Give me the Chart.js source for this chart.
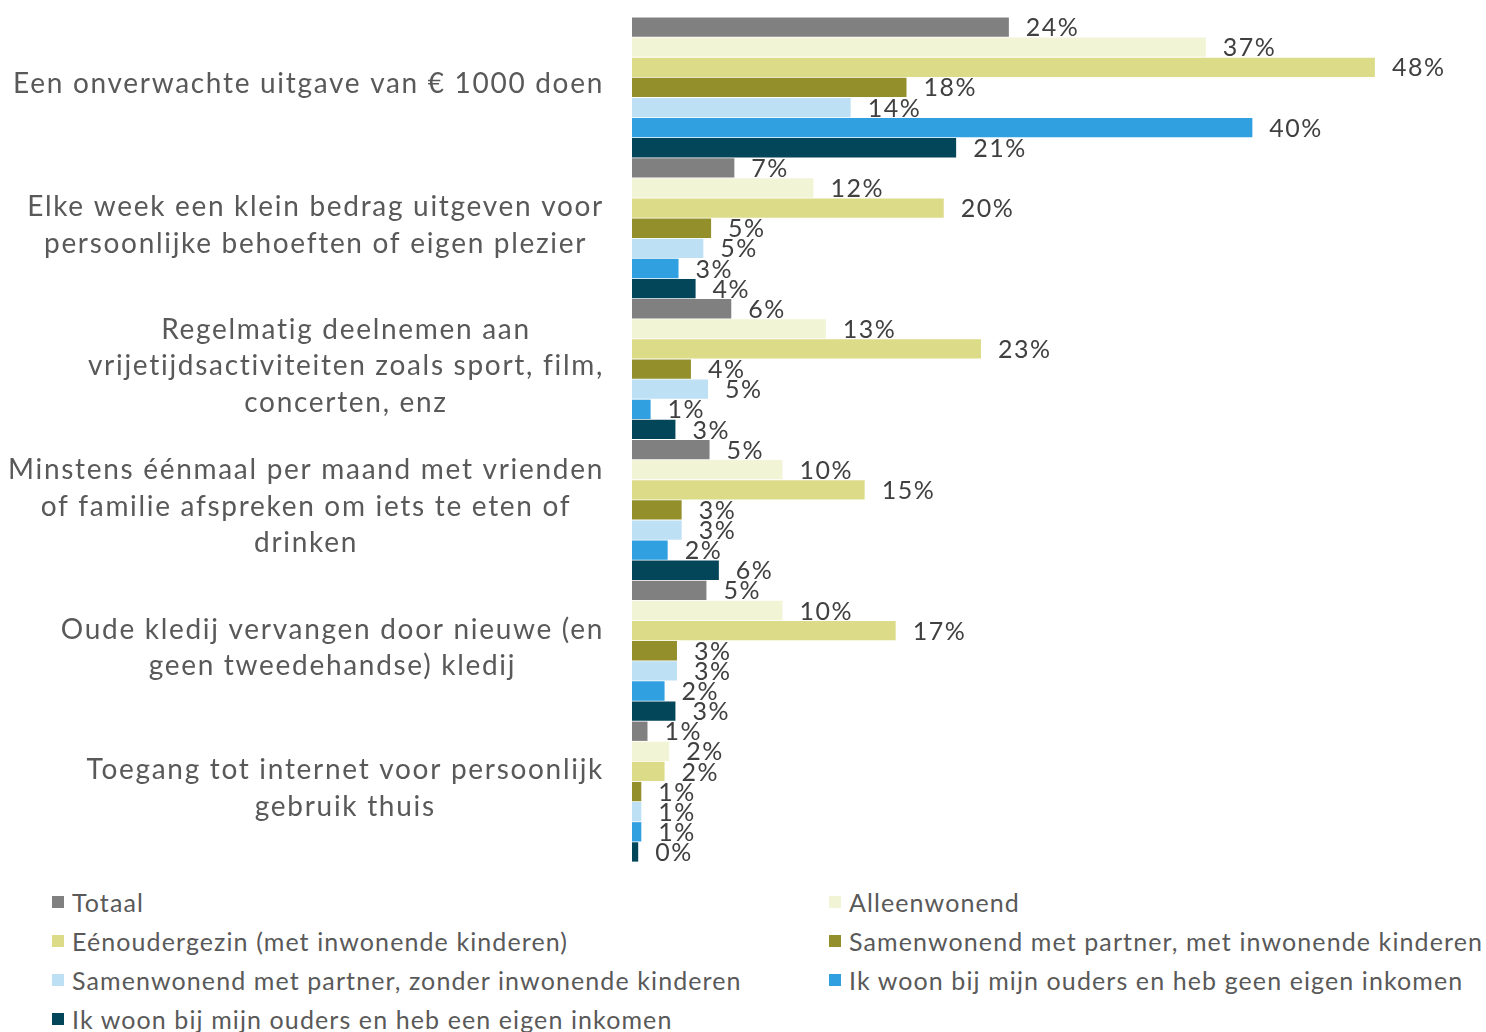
<!DOCTYPE html>
<html>
<head>
<meta charset="utf-8">
<script src="https://cdn.jsdelivr.net/npm/chart.js@4/dist/chart.umd.min.js"></script>
<style>
  body { margin: 0; background: #fff; font-family: Lato, sans-serif; }
  #wrap { position: relative; width: 1486px; height: 870px; }
  #legend { display: grid; grid-template-columns: 777px 650px; margin-left: 52px; margin-top: 17px; row-gap: 9px; }
  .item { display: flex; align-items: center; font-size: 25px; letter-spacing: 1.1px; color: #595959; line-height: 30px; white-space: nowrap; }
  .box { width: 12px; height: 12px; margin-right: 8px; flex: none; }
</style>
</head>
<body>
<div id="wrap"><canvas id="kostenChart"></canvas></div>
<div id="legend"></div>
<script>
// Categories (y axis)
var categories = [
    ['Een onverwachte uitgave van € 1000 doen'],
    ['Elke week een klein bedrag uitgeven voor', 'persoonlijke behoeften of eigen plezier'],
    ['Regelmatig deelnemen aan', 'vrijetijdsactiviteiten zoals sport, film,', 'concerten, enz'],
    ['Minstens éénmaal per maand met vrienden', 'of familie afspreken om iets te eten of', 'drinken'],
    ['Oude kledij vervangen door nieuwe (en', 'geen tweedehandse) kledij'],
    ['Toegang tot internet voor persoonlijk', 'gebruik thuis']
];

// Series (percent)
var totaal = [24.3, 6.6, 6.4, 5.0, 4.8, 1.0];
var alleenwonend = [37.0, 11.7, 12.5, 9.7, 9.7, 2.4];
var eenoudergezin = [47.9, 20.1, 22.5, 15.0, 17.0, 2.1];
var samenMetKinderen = [17.7, 5.1, 3.8, 3.2, 2.9, 0.6];
var samenZonderKinderen = [14.1, 4.6, 4.9, 3.2, 2.9, 0.6];
var oudersGeenInkomen = [40.0, 3.0, 1.2, 2.3, 2.1, 0.6];
var oudersEigenInkomen = [20.9, 4.1, 2.8, 5.6, 2.8, 0.4];

var datasets = [
    { label: 'Totaal', data: totaal, backgroundColor: '#808080' },
    { label: 'Alleenwonend', data: alleenwonend, backgroundColor: '#f2f4d6' },
    { label: 'Eénoudergezin (met inwonende kinderen)', data: eenoudergezin, backgroundColor: '#dbdb88' },
    { label: 'Samenwonend met partner, met inwonende kinderen', data: samenMetKinderen, backgroundColor: '#938f2b' },
    { label: 'Samenwonend met partner, zonder inwonende kinderen', data: samenZonderKinderen, backgroundColor: '#bde0f5' },
    { label: 'Ik woon bij mijn ouders en heb geen eigen inkomen', data: oudersGeenInkomen, backgroundColor: '#30a0e0' },
    { label: 'Ik woon bij mijn ouders en heb een eigen inkomen', data: oudersEigenInkomen, backgroundColor: '#034559' }
];

// value labels + category labels (right aligned block, centered lines)
var labelsPlugin = {
    id: 'labels',
    afterDatasetsDraw: function (chart) {
        var ctx = chart.ctx;
        ctx.save();
        ctx.font = '25px Lato';
        ctx.letterSpacing = '1.5px';
        ctx.fillStyle = '#404040';
        ctx.textAlign = 'left';
        ctx.textBaseline = 'middle';
        chart.data.datasets.forEach(function (ds, i) {
            chart.getDatasetMeta(i).data.forEach(function (bar, j) {
                ctx.fillText(Math.round(ds.data[j]) + '%', bar.x + 17, bar.y + 1);
            });
        });

        var yScale = chart.scales.y;
        ctx.font = '28px Lato';
        ctx.letterSpacing = '1.7px';
        ctx.fillStyle = '#595959';
        ctx.textAlign = 'center';
        var lineH = 36.5;
        categories.forEach(function (lines, i) {
            var maxW = 0;
            lines.forEach(function (l) { maxW = Math.max(maxW, ctx.measureText(l).width); });
            var cx = 604 - maxW / 2;
            var cy = yScale.getPixelForTick(i) - 3;
            lines.forEach(function (l, k) {
                ctx.fillText(l, cx, cy + (k - (lines.length - 1) / 2) * lineH);
            });
        });
        ctx.restore();
    }
};

var ctx = document.getElementById('kostenChart');

var kostenChart = new Chart(ctx, {
    type: 'bar',
    data: { labels: categories, datasets: datasets },
    options: {
        indexAxis: 'y',
        responsive: true,
        maintainAspectRatio: false,
        animation: false,
        layout: { padding: { top: 17, bottom: 8, right: 1, left: 0 } },
        datasets: { bar: { categoryPercentage: 1, barPercentage: 0.96 } },
        scales: {
            x: { display: false, min: 0, max: 55 },
            y: {
                grid: { display: false },
                border: { display: false },
                ticks: { display: false },
                afterFit: function (scale) { scale.width = 632; }
            }
        },
        plugins: {
            legend: { display: false },
            tooltip: { enabled: false }
        }
    },
    plugins: [labelsPlugin]
});

// HTML legend in two columns
var legend = document.getElementById('legend');
datasets.forEach(function (ds) {
    var item = document.createElement('div');
    item.className = 'item';
    item.innerHTML = '<span class="box" style="background:' + ds.backgroundColor + '"></span>' + ds.label;
    legend.appendChild(item);
});
</script>
</body>
</html>
